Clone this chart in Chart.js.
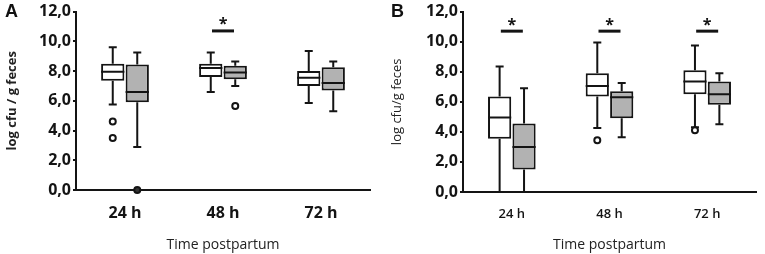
<!DOCTYPE html>
<html>
<head>
<meta charset="utf-8">
<script src="https://cdn.jsdelivr.net/npm/chart.js@4.4.0/dist/chart.umd.min.js"></script>
<style>
    html, body { margin: 0; padding: 0; background: #fff; }
    #wrap { position: relative; width: 765px; height: 254px; overflow: hidden; }
    .panel { position: absolute; top: 0; height: 254px; }
    .letter { position: absolute; top: 1px; font: bold 18px "Liberation Sans", Arial, sans-serif; color: #111; }
</style>
</head>
<body>
<div id="wrap">
    <div class="panel" style="left:0;width:385px;"><canvas id="chartA" width="385" height="254"></canvas></div>
    <div class="panel" style="left:385px;width:380px;"><canvas id="chartB" width="380" height="254"></canvas></div>
    <div class="letter" style="left:5px;">A</div>
    <div class="letter" style="left:391px;">B</div>
</div>
<script>
const timeLabels = ['24 h', '48 h', '72 h'];
const yTickValues = [0, 2, 4, 6, 8, 10, 12];

// panel A - white boxes
const aWhiteMin = [5.75, 6.6, 5.85];
const aWhiteQ1  = [7.35, 7.6, 7.0];
const aWhiteMed = [7.95, 8.2, 7.55];
const aWhiteQ3  = [8.5, 8.5, 8.0];
const aWhiteMax = [9.6, 9.25, 9.35];
const aWhiteOut = [[4.6, 3.5], [], []];
// panel A - gray boxes
const aGrayMin = [2.9, 7.0, 5.3];
const aGrayQ1  = [5.9, 7.45, 6.7];
const aGrayMed = [6.6, 7.9, 7.2];
const aGrayQ3  = [8.45, 8.35, 8.25];
const aGrayMax = [9.25, 8.65, 8.65];
const aGrayOut = [[0], [5.65], []];
const aSignif  = [false, true, false];

// panel B - white boxes
const bWhiteMin = [0, 4.25, 4.3];
const bWhiteQ1  = [3.55, 6.35, 6.5];
const bWhiteMed = [4.95, 7.05, 7.35];
const bWhiteQ3  = [6.35, 7.9, 8.1];
const bWhiteMax = [8.35, 9.95, 9.75];
const bWhiteOut = [[], [3.45], [4.1]];
// panel B - gray boxes
const bGrayMin = [0, 3.65, 4.5];
const bGrayQ1  = [1.5, 4.9, 5.8];
const bGrayMed = [3.0, 6.3, 6.5];
const bGrayQ3  = [4.55, 6.7, 7.35];
const bGrayMax = [6.9, 7.25, 7.9];
const bGrayOut = [[], [], []];
const bSignif  = [true, true, true];

const signifLevel = 10.7;

const INK = '#141414';
const GRAY_FILL = '#b2b2b2';

function boxDataset(q1, q3, min, med, max, out, fill) {
    return {
        data: q1.map((v, i) => [v, q3[i]]),
        whiskerMin: min,
        whiskerMax: max,
        median: med,
        outliers: out,
        backgroundColor: fill,
        borderColor: INK,
        borderWidth: 2,
        borderSkipped: false,
        categoryPercentage: 0.5,
        barPercentage: 0.95
    };
}

//..draws whiskers, medians, outliers and the significance bars
const boxPlotPlugin = {
    id: 'boxplot',
    afterDatasetsDraw(chart) {
        const { ctx } = chart;
        const x = chart.scales.x;
        const y = chart.scales.y;
        ctx.save();
        ctx.strokeStyle = INK;
        ctx.lineWidth = 2;
        chart.data.datasets.forEach((ds, di) => {
            const meta = chart.getDatasetMeta(di);
            meta.data.forEach((bar, i) => {
                const cx = bar.x;
                const half = bar.width / 2;
                const pQ1 = y.getPixelForValue(ds.data[i][0]);
                const pQ3 = y.getPixelForValue(ds.data[i][1]);
                const pMin = y.getPixelForValue(ds.whiskerMin[i]);
                const pMax = y.getPixelForValue(ds.whiskerMax[i]);
                const pMed = y.getPixelForValue(ds.median[i]);

                ctx.beginPath();
                ctx.moveTo(cx, pQ3); ctx.lineTo(cx, pMax);
                ctx.moveTo(cx - 4, pMax); ctx.lineTo(cx + 4, pMax);
                ctx.moveTo(cx, pQ1); ctx.lineTo(cx, pMin);
                ctx.moveTo(cx - 4, pMin); ctx.lineTo(cx + 4, pMin);
                ctx.moveTo(cx - half, pMed); ctx.lineTo(cx + half, pMed);
                ctx.stroke();

                ds.outliers[i].forEach(v => {
                    ctx.beginPath();
                    ctx.arc(cx, y.getPixelForValue(v), 3, 0, Math.PI * 2);
                    ctx.fillStyle = v === 0 ? '#333' : '#fff';
                    ctx.fill();
                    ctx.stroke();
                });
            });
        });

        const signif = chart.options.plugins.boxplot.signif;
        signif.forEach((on, i) => {
            if (!on) return;
            const cx = x.getPixelForValue(i);
            const py = y.getPixelForValue(signifLevel);
            ctx.lineWidth = 3;
            ctx.beginPath();
            ctx.moveTo(cx - 11, py); ctx.lineTo(cx + 11, py);
            ctx.stroke();
            ctx.fillStyle = INK;
            ctx.font = 'bold 16px "Open Sans"';
            ctx.textAlign = 'center';
            ctx.textBaseline = 'middle';
            ctx.fillText('*', cx, py - 6);
        });
        ctx.restore();
    }
};

function makeChart(id, cfg) {
    return new Chart(document.getElementById(id), {
        type: 'bar',
        data: {
            labels: timeLabels,
            datasets: cfg.datasets
        },
        options: {
            responsive: false,
            animation: false,
            devicePixelRatio: 1,
            layout: { padding: { top: cfg.top, right: cfg.right, left: 0, bottom: 0 } },
            plugins: {
                legend: { display: false },
                tooltip: { enabled: false },
                boxplot: { signif: cfg.signif }
            },
            scales: {
                x: {
                    grid: { display: false, drawTicks: false },
                    border: { display: true, color: INK, width: 2 },
                    ticks: {
                        padding: 14,
                        color: INK,
                        font: cfg.xTickFont
                    },
                    title: {
                        display: true,
                        text: 'Time postpartum',
                        color: '#222',
                        font: { family: 'Open Sans', size: 14 },
                        padding: { top: 0, bottom: 1 }
                    },
                    afterFit(scale) { scale.height = cfg.xHeight; }
                },
                y: {
                    min: 0,
                    max: 12,
                    afterBuildTicks(scale) {
                        scale.ticks = yTickValues.map(v => ({ value: v }));
                    },
                    grid: { drawOnChartArea: false, drawTicks: true, tickLength: 3, color: INK, lineWidth: 2 },
                    border: { display: true, color: INK, width: 2 },
                    ticks: {
                        padding: 2,
                        color: INK,
                        font: { family: 'Open Sans', size: 16, weight: 'bold' },
                        callback: v => v.toFixed(1).replace('.', ',')
                    },
                    title: {
                        display: true,
                        text: cfg.yTitle,
                        color: '#222',
                        font: cfg.yTitleFont,
                        padding: { top: 4, bottom: 0 }
                    },
                    afterFit(scale) { scale.width = cfg.yWidth; }
                }
            }
        },
        plugins: [boxPlotPlugin]
    });
}

document.addEventListener('DOMContentLoaded', function () {
    makeChart('chartA', {
        datasets: [
            boxDataset(aWhiteQ1, aWhiteQ3, aWhiteMin, aWhiteMed, aWhiteMax, aWhiteOut, '#ffffff'),
            boxDataset(aGrayQ1, aGrayQ3, aGrayMin, aGrayMed, aGrayMax, aGrayOut, GRAY_FILL)
        ],
        signif: aSignif,
        top: 9,
        right: 15,
        yWidth: 76,
        xHeight: 64,
        yTitle: 'log cfu / g feces',
        yTitleFont: { family: 'Open Sans', size: 13, weight: 'bold' },
        xTickFont: { family: 'Open Sans', size: 16, weight: 'bold' }
    });

    makeChart('chartB', {
        datasets: [
            boxDataset(bWhiteQ1, bWhiteQ3, bWhiteMin, bWhiteMed, bWhiteMax, bWhiteOut, '#ffffff'),
            boxDataset(bGrayQ1, bGrayQ3, bGrayMin, bGrayMed, bGrayMax, bGrayOut, GRAY_FILL)
        ],
        signif: bSignif,
        top: 8,
        right: 9,
        yWidth: 78,
        xHeight: 62,
        yTitle: 'log cfu/g feces',
        yTitleFont: { family: 'Open Sans', size: 13 },
        xTickFont: { family: 'Open Sans', size: 13, weight: '600' }
    });
});
</script>
</body>
</html>
